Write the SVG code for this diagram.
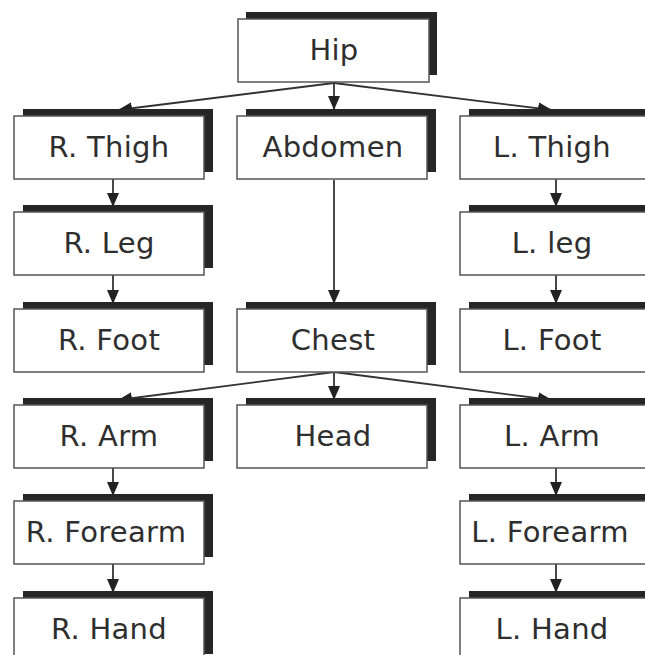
<svg xmlns="http://www.w3.org/2000/svg" width="645" height="655" viewBox="0 0 645 655">
<style>
.sh{fill:#262626}
.bx{fill:#fff;stroke:#555;stroke-width:1.5}
.t{font-family:"DejaVu Sans",sans-serif;font-size:29px;letter-spacing:0.3px;fill:#2e2e2e;text-anchor:middle}
.c{stroke:#333;stroke-width:1.8;fill:none;marker-end:url(#ah)}
</style>
<defs>
<marker id="ah" markerUnits="userSpaceOnUse" markerWidth="16" markerHeight="16" viewBox="0 0 16 16" refX="14" refY="8" orient="auto">
<path d="M0,2 L14,8 L0,14 Z" fill="#222"/>
</marker>
</defs>
<rect width="645" height="655" fill="#fff"/>
<g id="connectors">
<line class="c" x1="334" y1="83" x2="118" y2="110"/>
<line class="c" x1="334" y1="83" x2="334" y2="110"/>
<line class="c" x1="334" y1="83" x2="552" y2="110"/>
<line class="c" x1="113" y1="179" x2="113" y2="207"/>
<line class="c" x1="113" y1="275" x2="113" y2="304"/>
<line class="c" x1="334" y1="180" x2="334" y2="304"/>
<line class="c" x1="556" y1="179" x2="556" y2="207"/>
<line class="c" x1="556" y1="275" x2="556" y2="304"/>
<line class="c" x1="334" y1="372" x2="118" y2="400"/>
<line class="c" x1="334" y1="372" x2="334" y2="400"/>
<line class="c" x1="334" y1="372" x2="552" y2="400"/>
<line class="c" x1="113" y1="468" x2="113" y2="496"/>
<line class="c" x1="113" y1="564" x2="113" y2="593"/>
<line class="c" x1="556" y1="468" x2="556" y2="496"/>
<line class="c" x1="556" y1="564" x2="556" y2="593"/>
</g>
<g id="hip"><rect class="sh" x="246" y="12" width="191" height="63"/><rect class="bx" x="238" y="19" width="191" height="63"/><text class="t" x="334" y="60">Hip</text></g>
<g id="r-thigh"><rect class="sh" x="23" y="109" width="190" height="63"/><rect class="bx" x="14" y="116" width="190" height="63"/><text class="t" x="109" y="157">R. Thigh</text></g>
<g id="abdomen"><rect class="sh" x="246" y="109" width="190" height="63"/><rect class="bx" x="237" y="116" width="190" height="63"/><text class="t" x="333" y="157">Abdomen</text></g>
<g id="l-thigh"><rect class="sh" x="469" y="109" width="190" height="63"/><rect class="bx" x="460" y="116" width="190" height="63"/><text class="t" x="552" y="157">L. Thigh</text></g>
<g id="r-leg"><rect class="sh" x="23" y="205" width="190" height="63"/><rect class="bx" x="14" y="212" width="190" height="63"/><text class="t" x="109" y="253">R. Leg</text></g>
<g id="l-leg"><rect class="sh" x="469" y="205" width="190" height="63"/><rect class="bx" x="460" y="212" width="190" height="63"/><text class="t" x="552" y="253">L. leg</text></g>
<g id="r-foot"><rect class="sh" x="23" y="302" width="190" height="63"/><rect class="bx" x="14" y="309" width="190" height="63"/><text class="t" x="109" y="350">R. Foot</text></g>
<g id="chest"><rect class="sh" x="246" y="302" width="190" height="63"/><rect class="bx" x="237" y="309" width="190" height="63"/><text class="t" x="333" y="350">Chest</text></g>
<g id="l-foot"><rect class="sh" x="469" y="302" width="190" height="63"/><rect class="bx" x="460" y="309" width="190" height="63"/><text class="t" x="552" y="350">L. Foot</text></g>
<g id="r-arm"><rect class="sh" x="23" y="398" width="190" height="63"/><rect class="bx" x="14" y="405" width="190" height="63"/><text class="t" x="109" y="446">R. Arm</text></g>
<g id="head"><rect class="sh" x="246" y="398" width="190" height="63"/><rect class="bx" x="237" y="405" width="190" height="63"/><text class="t" x="333" y="446">Head</text></g>
<g id="l-arm"><rect class="sh" x="469" y="398" width="190" height="63"/><rect class="bx" x="460" y="405" width="190" height="63"/><text class="t" x="552" y="446">L. Arm</text></g>
<g id="r-forearm"><rect class="sh" x="23" y="494" width="190" height="63"/><rect class="bx" x="14" y="501" width="190" height="63"/><text class="t" x="106" y="542">R. Forearm</text></g>
<g id="l-forearm"><rect class="sh" x="469" y="494" width="190" height="63"/><rect class="bx" x="460" y="501" width="190" height="63"/><text class="t" x="550" y="542">L. Forearm</text></g>
<g id="r-hand"><rect class="sh" x="23" y="591" width="190" height="63"/><rect class="bx" x="14" y="598" width="190" height="63"/><text class="t" x="109" y="639">R. Hand</text></g>
<g id="l-hand"><rect class="sh" x="469" y="591" width="190" height="63"/><rect class="bx" x="460" y="598" width="190" height="63"/><text class="t" x="552" y="639">L. Hand</text></g>
</svg>
